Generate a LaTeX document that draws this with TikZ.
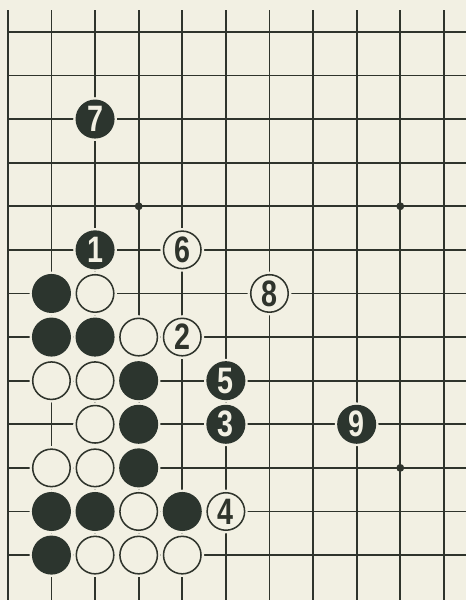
\documentclass[tikz,border=0pt]{standalone}
\usepackage{fontspec}
\setmainfont{Liberation Sans}
\usepackage{graphicx}
\usepackage{xcolor}
\definecolor{paper}{HTML}{F2F0E3}
\definecolor{ink}{HTML}{2F342C}
\definecolor{stoneblack}{HTML}{2C352E}
\usepackage{tikz}
\usetikzlibrary{positioning}
\newcommand{\narrownum}[1]{\scalebox{0.78}[1]{#1}}
\tikzset{
    stone/.style={circle, minimum size=0.86cm, inner sep=0pt, line width=1pt,
        font=\fontsize{24}{24}\selectfont\bfseries, preaction={draw=paper, line width=4pt}},
    blackstone/.style={stone, fill=stoneblack, draw=stoneblack, text=paper},
    whitestone/.style={stone, fill=paper, draw=ink, text=ink}
}

\begin{document}
\begin{tikzpicture}
    \fill[paper] (-0.18, 0.73) rectangle (10.51, -13.03);
    \useasboundingbox (-0.18, 0.73) rectangle (10.51, -13.03);
    % grid
    \foreach \i in {0,...,10} {
        \draw[ink, line width=1.2pt] (\i, 0.5) -- (\i, -13.03);
    }
    \foreach \j in {0,...,12} {
        \draw[ink, line width=1.2pt] (0, -\j) -- (10.51, -\j);
    }
    % star points
    \foreach \i/\j in {3/4, 9/4, 9/10} {
        \fill[ink] (\i, -\j) circle (0.09);
    }
    % black stones
    \foreach \n/\i/\j/\b in {b7/2/2/7, b1/2/5/1, ba/1/6/, bb/1/7/, bc/2/7/, bd/3/8/,
        b5/5/8/5, be/3/9/, b3/5/9/3, b9/8/9/9, bf/3/10/, bg/1/11/, bh/2/11/,
        bi/4/11/, bj/1/12/} {
        \node[blackstone] (\n) at (\i, -\j) {\narrownum{\b}};
    }
    % white stones
    \foreach \n/\i/\j/\b in {w6/4/5/6, wa/2/6/, w8/6/6/8, wb/3/7/, w2/4/7/2,
        wc/1/8/, wd/2/8/, we/2/9/, wf/1/10/, wg/2/10/, wh/3/11/, w4/5/11/4,
        wi/2/12/, wj/3/12/, wk/4/12/} {
        \node[whitestone] (\n) at (\i, -\j) {\narrownum{\b}};
    }
\end{tikzpicture}
\end{document}
